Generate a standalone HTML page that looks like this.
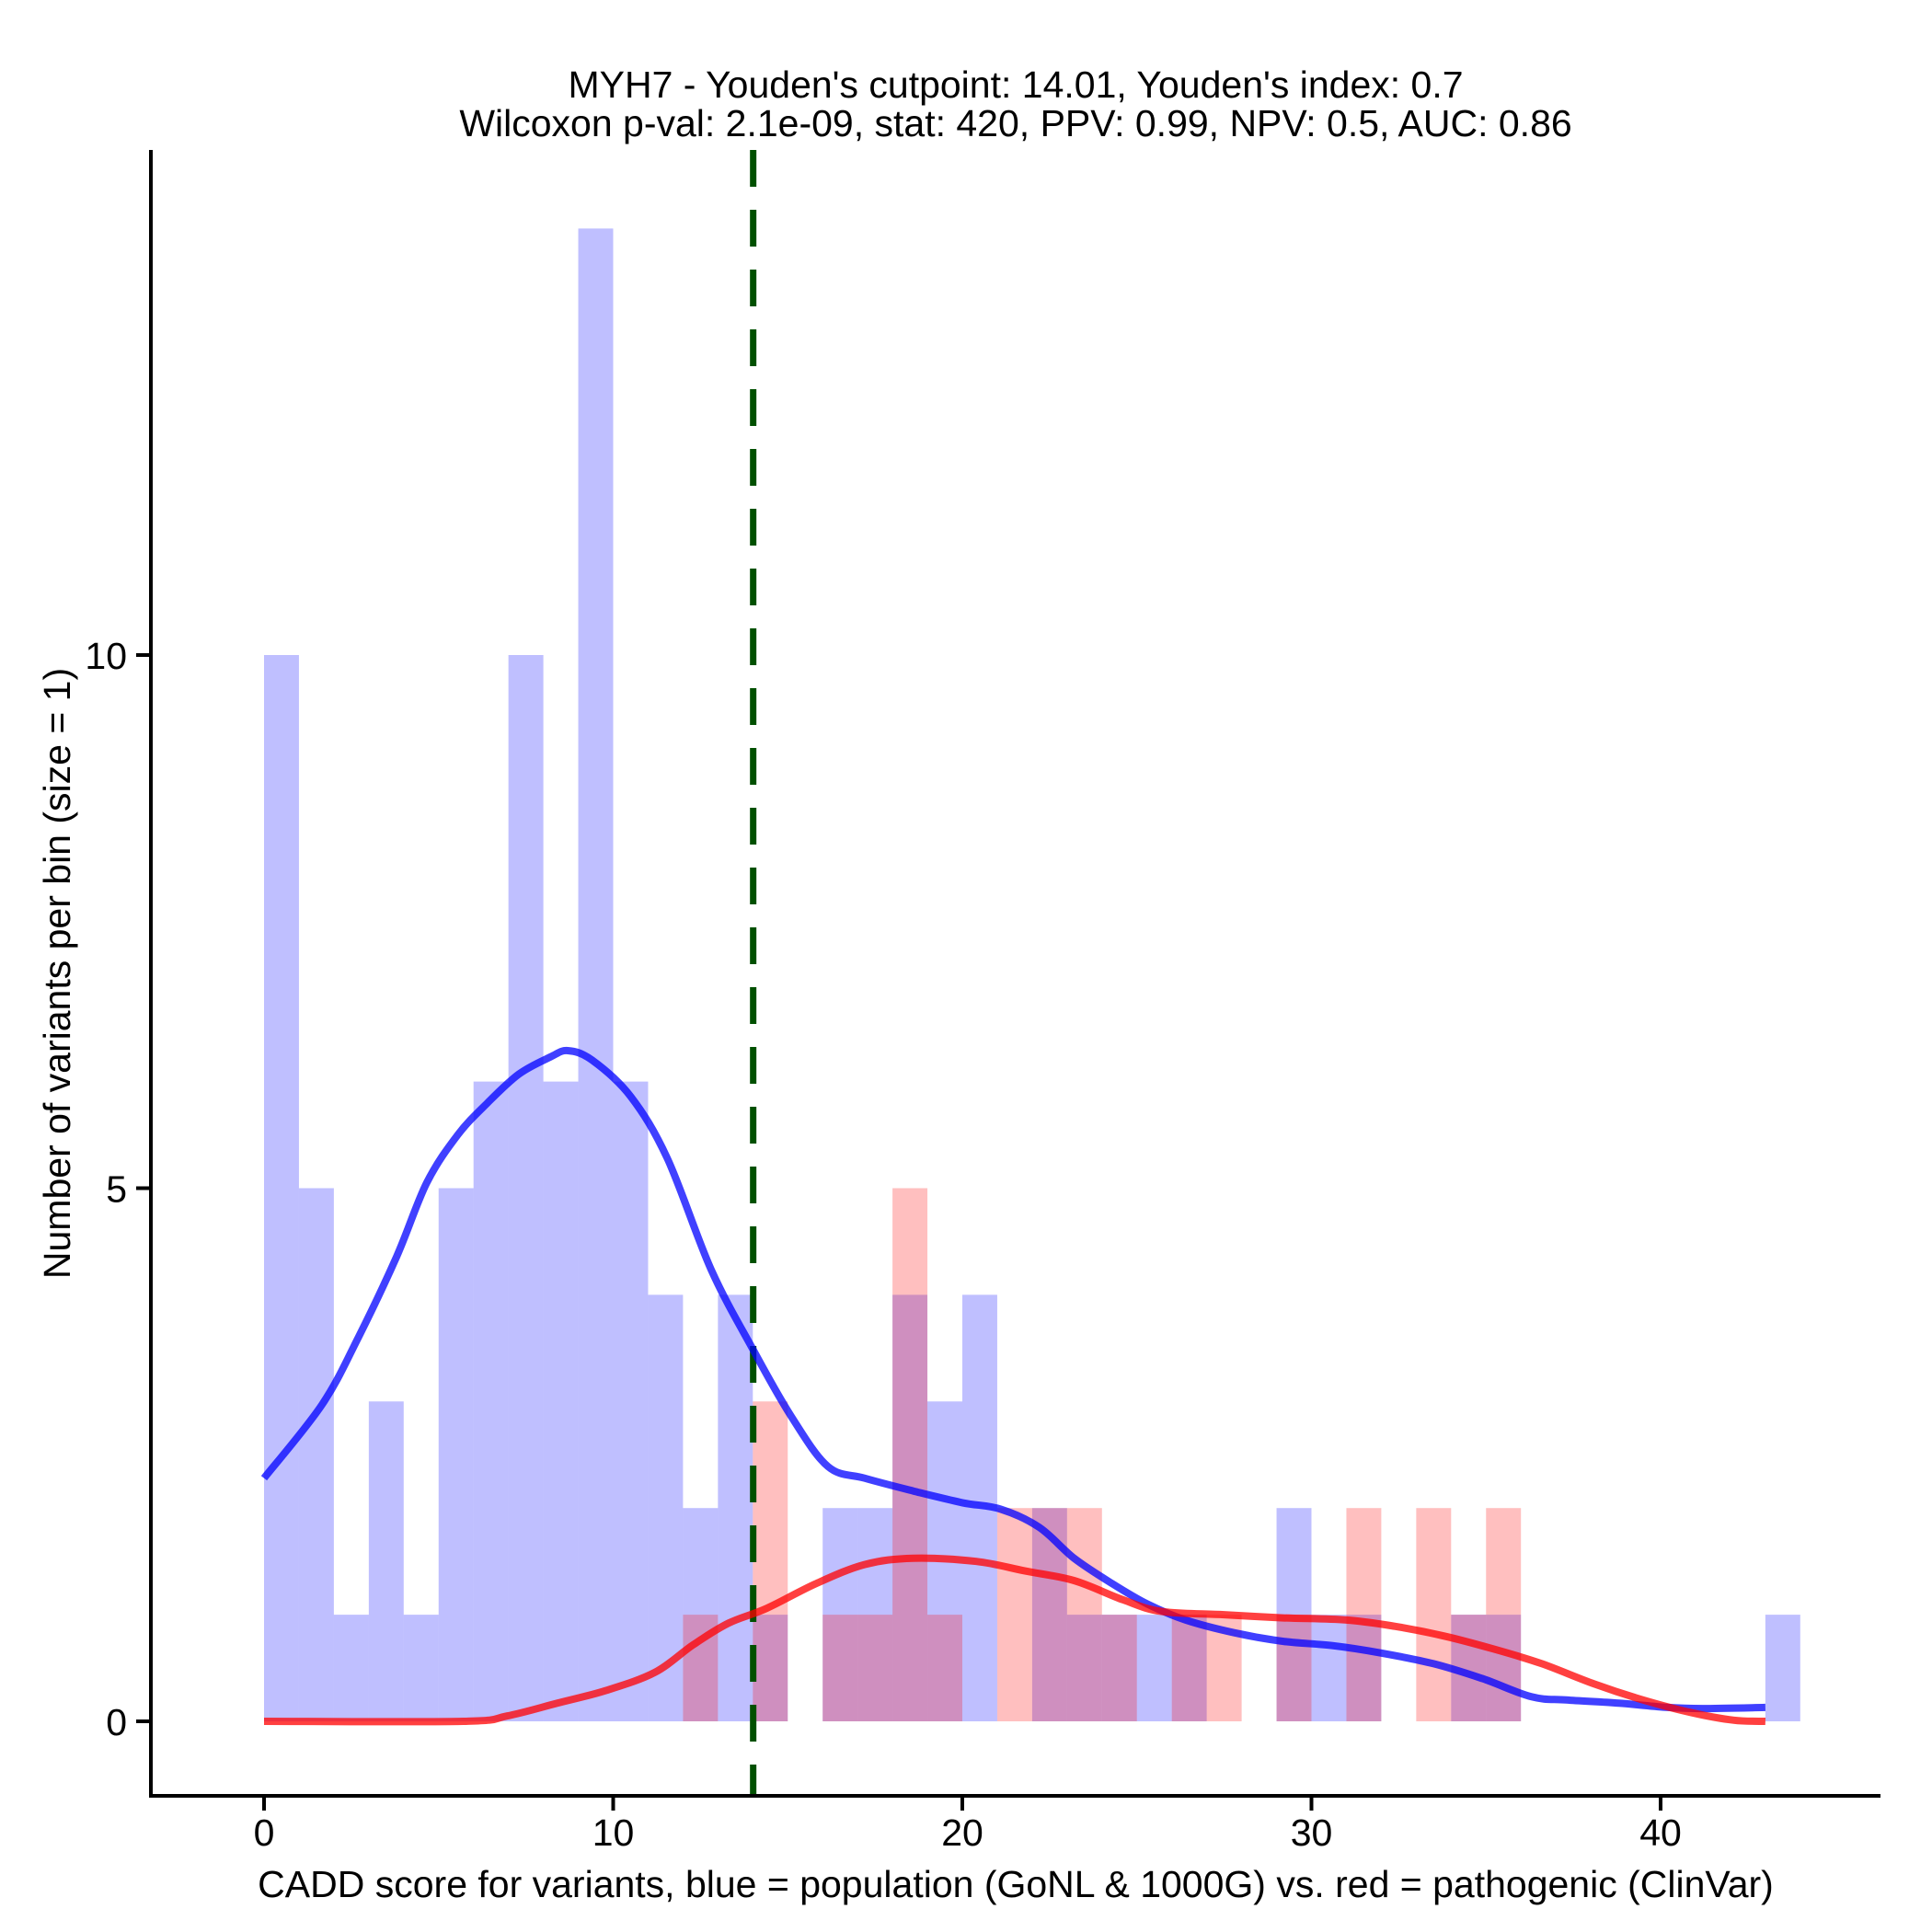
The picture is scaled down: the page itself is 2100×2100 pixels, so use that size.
<!DOCTYPE html>
<html><head><meta charset="utf-8"><style>
html,body{margin:0;padding:0;background:#fff}
svg{display:block;font-family:"Liberation Sans",Arial,sans-serif}
</style></head><body>
<svg id="chart" width="2100" height="2100" viewBox="0 0 2100 2100" xmlns="http://www.w3.org/2000/svg">
<rect width="2100" height="2100" fill="#fff"/>
<text x="1104" y="106" font-size="41" text-anchor="middle">MYH7 - Youden's cutpoint: 14.01, Youden's index: 0.7</text>
<text x="1104" y="148" font-size="41" text-anchor="middle">Wilcoxon p-val: 2.1e-09, stat: 420, PPV: 0.99, NPV: 0.5, AUC: 0.86</text>
<g id="bars"></g>
<g id="lines"></g>
<g id="axes"></g>
<text x="1104" y="2062" font-size="41" text-anchor="middle">CADD score for variants, blue = population (GoNL &amp; 1000G) vs. red = pathogenic (ClinVar)</text>
<text transform="translate(76,1058) rotate(-90)" font-size="41" text-anchor="middle">Number of variants per bin (size = 1)</text>
</svg>
<script>
const binStarts = [0,1,2,3,4,5,6,7,8,9,10,11,12,13,14,15,16,17,18,19,20,21,22,23,24,25,26,27,28,29,30,31,32,33,34,35,36,37,38,39,40,41,42,43];
const blueCounts = [10,5,1,3,1,5,6,10,6,14,6,4,2,4,1,0,2,2,4,3,4,0,2,1,1,1,1,0,0,2,1,1,0,0,1,1,0,0,0,0,0,0,0,1];
const redCounts  = [0,0,0,0,0,0,0,0,0,0,0,0,1,0,3,0,1,1,5,1,0,2,2,2,1,0,1,1,0,1,0,2,0,2,1,2,0,0,0,0,0,0,0,0];
const blueDensX = [0,1.66,2.7,3.8,4.66,5.55,6.4,7.3,8.2,8.7,9.4,10.5,11.55,12.8,14.0,15.1,16.15,17.2,18.6,20.0,21.1,22.2,23.2,24.3,25.3,26.4,27.8,29.2,30.6,32.0,33.5,34.9,36.3,37.3,38.8,40.2,41.2,43.0];
const blueDensY = [2.28,2.97,3.6,4.36,5.05,5.5,5.8,6.07,6.23,6.29,6.2,5.86,5.28,4.24,3.49,2.86,2.39,2.28,2.16,2.05,1.99,1.82,1.53,1.29,1.10,0.95,0.83,0.75,0.71,0.64,0.54,0.40,0.23,0.20,0.17,0.13,0.12,0.13];
const redDensX = [0,5.7,6.96,8.4,9.8,11.2,12.3,13.3,14.4,15.8,17.2,18.6,20.4,21.8,23.2,24.6,25.7,27.5,29.2,31.0,32.4,33.8,35.2,36.6,38.1,39.5,40.9,42.1,43.0];
const redDensY = [0,0,0.05,0.17,0.29,0.46,0.72,0.92,1.06,1.29,1.47,1.53,1.50,1.41,1.32,1.14,1.03,1.0,0.97,0.95,0.89,0.8,0.68,0.54,0.35,0.20,0.08,0.01,0];
const xTicks = [0,10,20,30,40];
const yTicks = [0,5,10];
const cutpoint = [14.01];

const NS='http://www.w3.org/2000/svg';
const X0=287, XS=37.95, Y0=1871, YS=115.9;
const xs=v=>X0+v*XS, ys=v=>Y0-v*YS;
const L=164,R=2044,T=163,B=1952;
function mk(tag,attrs,parent){const e=document.createElementNS(NS,tag);for(const k in attrs)e.setAttribute(k,attrs[k]);parent.appendChild(e);return e;}
const bars=document.getElementById('bars'), lines=document.getElementById('lines'), axes=document.getElementById('axes');
binStarts.forEach((b,i)=>{
  if(blueCounts[i]>0){const r=mk('rect',{x:xs(b),y:ys(blueCounts[i]),width:XS,height:blueCounts[i]*YS,fill:'rgb(0,0,255)','fill-opacity':0.25},bars);
  
  }
});
binStarts.forEach((b,i)=>{
  if(redCounts[i]>0){const r=mk('rect',{x:xs(b),y:ys(redCounts[i]),width:XS,height:redCounts[i]*YS,fill:'rgb(255,0,0)','fill-opacity':0.25},bars);
  
  }
});
function smooth(xa,ya){
  const p=xa.map((x,i)=>[xs(x),ys(ya[i])]);
  let d='M'+p[0][0].toFixed(1)+','+p[0][1].toFixed(1);
  for(let i=0;i<p.length-1;i++){
    const p0=p[Math.max(0,i-1)],p1=p[i],p2=p[i+1],p3=p[Math.min(p.length-1,i+2)];
    const c1=[p1[0]+(p2[0]-p0[0])/6,p1[1]+(p2[1]-p0[1])/6];
    const c2=[p2[0]-(p3[0]-p1[0])/6,p2[1]-(p3[1]-p1[1])/6];
    d+=' C'+c1[0].toFixed(1)+','+c1[1].toFixed(1)+' '+c2[0].toFixed(1)+','+c2[1].toFixed(1)+' '+p2[0].toFixed(1)+','+p2[1].toFixed(1);
  }
  return d;
}
const cl=mk('line',{x1:xs(cutpoint[0]),x2:xs(cutpoint[0]),y1:T,y2:B,stroke:'#005000','stroke-width':7,'stroke-dasharray':'40,25'},lines);


const bl=mk('path',{d:smooth(blueDensX,blueDensY),fill:'none',stroke:'rgb(0,0,255)','stroke-opacity':0.75,'stroke-width':8,'stroke-linejoin':'round'},lines);


const rl=mk('path',{d:smooth(redDensX,redDensY),fill:'none',stroke:'rgb(255,0,0)','stroke-opacity':0.75,'stroke-width':8,'stroke-linejoin':'round'},lines);


const ya=mk('line',{x1:L,x2:L,y1:T,y2:B+2,stroke:'#000','stroke-width':4},axes);


const xa=mk('line',{x1:L-2,x2:R,y1:B,y2:B,stroke:'#000','stroke-width':4},axes);


xTicks.forEach(t=>{
  const tk=mk('line',{x1:xs(t),x2:xs(t),y1:B,y2:B+16,stroke:'#000','stroke-width':4},axes);
  
  
  const tx=mk('text',{x:xs(t),y:B+54,'font-size':41,'text-anchor':'middle'},axes);
  tx.textContent=t;
  
  
});
yTicks.forEach(t=>{
  const tk=mk('line',{x1:L-16,x2:L,y1:ys(t),y2:ys(t),stroke:'#000','stroke-width':4},axes);
  
  
  const tx=mk('text',{x:L-26,y:ys(t)+15,'font-size':41,'text-anchor':'end'},axes);
  tx.textContent=t;
  
  
});
</script>
</body></html>
